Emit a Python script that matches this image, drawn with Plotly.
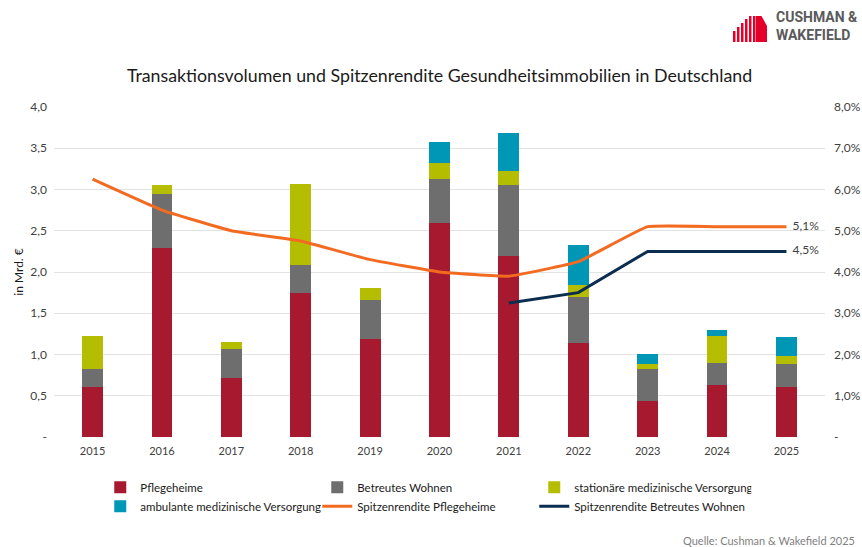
import plotly.graph_objects as go

years = ['2015', '2016', '2017', '2018', '2019', '2020', '2021', '2022', '2023', '2024', '2025']

pflegeheime = [0.61, 2.29, 0.71, 1.75, 1.19, 2.60, 2.19, 1.14, 0.44, 0.63, 0.61]
betreutes_wohnen = [0.21, 0.65, 0.36, 0.33, 0.47, 0.53, 0.87, 0.56, 0.38, 0.27, 0.27]
stationaer = [0.40, 0.11, 0.08, 0.99, 0.15, 0.19, 0.17, 0.14, 0.07, 0.32, 0.10]
ambulant = [0.00, 0.00, 0.00, 0.00, 0.00, 0.26, 0.46, 0.49, 0.12, 0.08, 0.23]

rendite_pflege = [6.25, 5.5, 5.0, 4.75, 4.3, 4.0, 3.9, 4.25, 5.1, 5.1, 5.1]
rendite_bw_years = ['2021', '2022', '2023', '2024', '2025']
rendite_bw = [3.25, 3.5, 4.5, 4.5, 4.5]

left_ticks = [0, 0.5, 1, 1.5, 2, 2.5, 3, 3.5, 4]
right_ticks = [0, 1, 2, 3, 4, 5, 6, 7, 8]

FONT = 'Lato'
TXT = '#404040'


def de(v, digits=1):
    return f'{v:.{digits}f}'.replace('.', ',')


def last_label(values):
    return [''] * (len(values) - 1) + ['  ' + de(values[-1]) + '%']


fig = go.Figure()

bars = [
    ('Pflegeheime', pflegeheime, '#A6192E'),
    ('Betreutes Wohnen', betreutes_wohnen, '#6E6E6E'),
    ('stationäre medizinische Versorgung', stationaer, '#B5BD00'),
    ('ambulante medizinische Versorgung', ambulant, '#0097B6'),
]
for name, vals, col in bars:
    fig.add_trace(go.Bar(x=years, y=vals, name=name, marker_color=col, marker_line_width=0))

fig.add_trace(go.Scatter(x=years, y=rendite_pflege, name='Spitzenrendite Pflegeheime', yaxis='y2',
                         mode='lines+text', text=last_label(rendite_pflege), textposition='middle right',
                         textfont=dict(size=12, color=TXT, family=FONT),
                         line=dict(color='#F26B21', width=3, shape='spline', smoothing=0.3)))
fig.add_trace(go.Scatter(x=rendite_bw_years, y=rendite_bw, name='Spitzenrendite Betreutes Wohnen', yaxis='y2',
                         mode='lines+text', text=last_label(rendite_bw), textposition='middle right',
                         textfont=dict(size=12, color=TXT, family=FONT),
                         line=dict(color='#0B2D50', width=3)))

fig.update_layout(
    width=862, height=547,
    margin=dict(l=54, r=37, t=107, b=110, autoexpand=False),
    plot_bgcolor='white', paper_bgcolor='white',
    barmode='stack', bargap=0.7,
    font=dict(family=FONT, size=12, color=TXT),
    title=dict(text='Transaktionsvolumen und Spitzenrendite Gesundheitsimmobilien in Deutschland',
               x=0.5, xref='paper', y=0.862, yanchor='middle',
               font=dict(size=17.8, color='#1a1a1a', family=FONT)),
    xaxis=dict(showgrid=False, showline=False, ticks='', tickfont=dict(size=11), automargin=False,
               ticklabelstandoff=6),
    yaxis=dict(range=[0, 4], tickvals=left_ticks, automargin=False, ticklabelstandoff=6,
               ticktext=['-' if v == 0 else de(v) for v in left_ticks],
               showgrid=True, gridcolor='#E3E3E3', gridwidth=1, zeroline=False, showline=False,
               title=dict(text='in Mrd. €', font=dict(size=12, color='#1a1a1a'), standoff=4)),
    yaxis2=dict(range=[0, 8], tickvals=right_ticks, automargin=False, ticklabelstandoff=8,
                ticktext=['-' if v == 0 else de(v) + '%' for v in right_ticks],
                overlaying='y', side='right', showgrid=False, zeroline=False, showline=False),
    legend=dict(orientation='h', x=0.06, xanchor='left', y=-0.108, yanchor='top',
                traceorder='normal', entrywidth=172, font=dict(size=11.5, color='#1a1a1a')),
    showlegend=True,
)

fig.add_annotation(text='Quelle: Cushman &amp; Wakefield 2025', xref='paper', yref='paper',
                   x=1.042, y=-0.315, xanchor='right', yanchor='middle', showarrow=False,
                   font=dict(size=11, color='#7F7F7F', family=FONT))

# logo
fig.add_annotation(text='<b>CUSHMAN &amp;<br>WAKEFIELD</b>', xref='paper', yref='paper',
                   x=1.046, y=1.245, xanchor='right', yanchor='middle', showarrow=False, align='left',
                   font=dict(size=14, color='#5A5A5A', family='Roboto'))


def px2paper(px, py):
    return (px - 54) / 771, (437 - py) / 330


logo_bars = [(733, 31), (737, 27), (741, 23), (745, 19), (749, 16), (753, 16)]
for x0, top in logo_bars:
    a, b = px2paper(x0, top)
    c, d = px2paper(x0 + 2.5, 42)
    fig.add_shape(type='rect', xref='paper', yref='paper', x0=a, x1=c, y0=d, y1=b,
                  fillcolor='#E4002B', line_width=0)
a, b = px2paper(756, 16)
c, d = px2paper(767, 42)
fig.add_shape(type='path', xref='paper', yref='paper',
              path=f'M {a},{d} L {a},{b} L {(a + c) / 2},{b} L {c},{px2paper(0, 26)[1]} L {c},{d} Z',
              fillcolor='#E4002B', line_width=0)

fig.write_html('out.html', config={'displayModeBar': False},
               post_script="document.body.style.margin='0';")
